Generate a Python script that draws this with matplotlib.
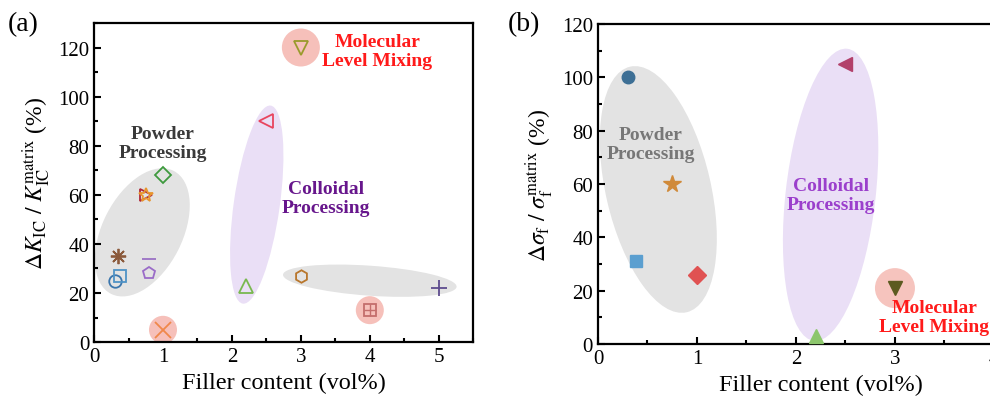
import matplotlib

matplotlib.use("Agg")
import matplotlib.pyplot as plt
from matplotlib.patches import Ellipse
from matplotlib.ticker import MultipleLocator

plt.rcParams["font.family"] = ["Liberation Serif", "DejaVu Serif"]
plt.rcParams["mathtext.fontset"] = "stix"

# (a) fracture toughness improvement, open markers
a_x = [0.3, 0.38, 0.35, 0.75, 0.75, 1.0, 0.8, 0.8, 1.0, 2.2, 2.5, 3.0, 3.0, 4.0, 5.0]
a_y = [25, 27, 35, 60, 60, 68, 34, 28, 5, 23, 90, 120, 27, 13, 22]
a_markers = ["o", "s", (8, 2, 0), ">", "*", "D", "_", "p", "x", "^", "<", "v", "h", "s", "+"]
a_colors = ["#3b76ad", "#4f93c6", "#8b5a3c", "#b02838", "#e8962e", "#3e9a3e", "#9a72c4",
            "#9a6cc8", "#f0884a", "#79b84f", "#e8455e", "#9a9a2c", "#b8762c", "#c46e6c", "#5e4c8e"]
a_sizes = [9, 9, 11, 9, 10, 8, 10, 9, 12, 10, 10, 10, 9, 9, 11]
a_highlight = [(1.0, 5, 14), (3.0, 120, 19), (4.0, 13, 14)]

# (b) flexural strength improvement, filled markers
b_x = [0.3, 0.38, 0.75, 1.0, 2.2, 2.5, 3.0]
b_y = [100, 31, 60, 26, 3, 105, 21]
b_markers = ["o", "s", "*", "D", "^", "<", "v"]
b_colors = ["#3d6f95", "#5b9fd0", "#d08a3a", "#e05252", "#8cc66c", "#b2406a", "#5c5a20"]
b_sizes = [9, 9, 13, 9, 10, 10, 10]
b_highlight = [(3.0, 21, 20)]


def add_ellipse(ax, cx, cy, w_px, h_px, angle, color):
    px = ax.transData.transform((cx, cy))
    ax.add_patch(Ellipse(px, w_px, h_px, angle=angle, transform=None,
                         facecolor=color, edgecolor="none", zorder=1))


def style_axes(ax, xlim, ylim):
    ax.set_xlim(*xlim)
    ax.set_ylim(*ylim)
    ax.xaxis.set_major_locator(MultipleLocator(1))
    ax.xaxis.set_minor_locator(MultipleLocator(0.5))
    ax.yaxis.set_major_locator(MultipleLocator(20))
    ax.yaxis.set_minor_locator(MultipleLocator(10))
    ax.tick_params(which="both", direction="in", labelsize=15, width=1.5)
    ax.tick_params(which="major", length=5)
    ax.tick_params(which="minor", length=3)
    for s in ax.spines.values():
        s.set_linewidth(1.6)
    ax.set_xlabel("Filler content (vol%)", fontsize=17.5)


fig = plt.figure(figsize=(9.9, 4.06), dpi=100)
ax1 = fig.add_axes([0.095, 0.155, 0.383, 0.786])
ax2 = fig.add_axes([0.604, 0.150, 0.45, 0.788])

style_axes(ax1, (0, 5.5), (0, 130))
style_axes(ax2, (0, 4.5), (0, 120))
ax1.set_ylabel(r"$\Delta K_{\mathrm{IC}}\ /\ K_{\mathrm{IC}}^{\mathrm{matrix}}$ (%)", fontsize=17)
ax2.set_ylabel(r"$\Delta\sigma_{\mathrm{f}}\ /\ \sigma_{\mathrm{f}}^{\mathrm{matrix}}$ (%)", fontsize=17)

# group shading
add_ellipse(ax1, 0.70, 44.7, 138, 80, 63, "#e3e3e3")
add_ellipse(ax1, 2.36, 56, 200, 46, 82, "#eadff6")
add_ellipse(ax1, 4.0, 25, 174, 30, -4, "#e3e3e3")
add_ellipse(ax2, 0.61, 58, 252, 105, 103, "#e3e3e3")
add_ellipse(ax2, 2.35, 56, 294, 90, 83.5, "#eadff6")

for x, y, r in a_highlight:
    ax1.scatter(x, y, s=(2 * r * 0.72) ** 2, color="#f6c0ba", edgecolors="none", zorder=2)
for x, y, r in b_highlight:
    ax2.scatter(x, y, s=(2 * r * 0.72) ** 2, color="#f6c4be", edgecolors="none", zorder=2)

for x, y, m, c, s in zip(a_x, a_y, a_markers, a_colors, a_sizes):
    ax1.plot(x, y, linestyle="none", marker=m, markersize=s, markerfacecolor="none",
             markeredgecolor=c, markeredgewidth=1.3, zorder=3)
ax1.plot(4.0, 13, linestyle="none", marker="+", markersize=9, color=a_colors[13],
         markeredgewidth=1.0, zorder=3)

for x, y, m, c, s in zip(b_x, b_y, b_markers, b_colors, b_sizes):
    ax2.plot(x, y, linestyle="none", marker=m, markersize=s, color=c, zorder=3)

bold = dict(fontsize=14, fontweight="bold", ha="center", va="center", linespacing=1.15, zorder=4)
ax1.text(1.0, 81, "Powder\nProcessing", color="#3a3a3a", **bold)
ax1.text(3.37, 58.5, "Colloidal\nProcessing", color="#67168c", **bold)
ax1.text(4.11, 118.5, "Molecular\nLevel Mixing", color="#ff1a1a", **bold)
ax2.text(0.53, 75, "Powder\nProcessing", color="#777777", **bold)
ax2.text(2.35, 56, "Colloidal\nProcessing", color="#9b3fcc", **bold)
ax2.text(3.40, 10, "Molecular\nLevel Mixing", color="#ff1a1a", **bold)

fig.text(0.008, 0.94, "(a)", fontsize=20, va="center")
fig.text(0.513, 0.94, "(b)", fontsize=20, va="center")

fig.savefig("out.png", dpi=100)
